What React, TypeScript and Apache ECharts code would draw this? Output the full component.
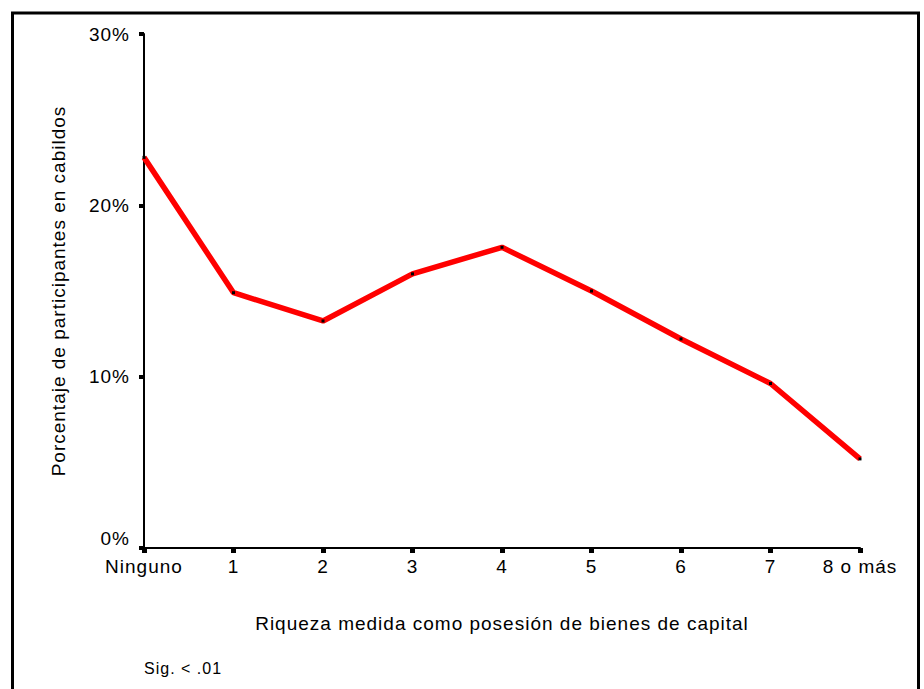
import React, { useEffect, useRef } from "react";
import * as echarts from "echarts";

const categories = ["Ninguno", "1", "2", "3", "4", "5", "6", "7", "8 o más"];
const participation = [22.8, 14.9, 13.25, 16.0, 17.55, 15.0, 12.2, 9.6, 5.2];
const yMin = 0;
const yMax = 30;
const yStep = 10;
const xTitle = "Riqueza medida como posesión de bienes de capital";
const yTitle = "Porcentaje de participantes en cabildos";
const note = "Sig. < .01";

const FONT = "'Liberation Sans', Arial, sans-serif";
const FS = 19;

export default function App() {
  const ref = useRef<HTMLDivElement>(null);
  useEffect(() => {
    if (!ref.current) return;
    const chart = echarts.init(ref.current, undefined, { renderer: "svg" });
    chart.setOption({
      animation: false,
      backgroundColor: "#fff",
      textStyle: { fontFamily: FONT, color: "#000" },
      grid: { left: 144, right: 64, top: 34, bottom: 141, containLabel: false },
      xAxis: {
        type: "category",
        data: categories,
        boundaryGap: false,
        name: xTitle,
        nameLocation: "middle",
        nameGap: 66,
        nameTextStyle: { fontFamily: FONT, fontSize: FS, color: "#000" },
        axisLine: { lineStyle: { color: "#000", width: 2 } },
        axisTick: { length: 5, lineStyle: { color: "#000", width: 5 } },
        axisLabel: { interval: 0, margin: 9, fontFamily: FONT, fontSize: FS, color: "#000" },
        splitLine: { show: false },
      },
      yAxis: {
        type: "value",
        min: yMin,
        max: yMax,
        interval: yStep,
        name: yTitle,
        nameLocation: "middle",
        nameGap: 76,
        nameTextStyle: { fontFamily: FONT, fontSize: FS, color: "#000" },
        axisLine: { show: true, lineStyle: { color: "#000", width: 2 } },
        axisTick: { show: true, length: 5, lineStyle: { color: "#000", width: 4 } },
        axisLabel: {
          margin: 14,
          fontFamily: FONT,
          fontSize: FS,
          color: "#000",
          formatter: (v: number) => (v === 0 ? "{zero|0%}" : v + "%"),
          rich: {
            zero: { fontFamily: FONT, fontSize: FS, color: "#000", padding: [0, 0, 20, 0] },
          },
        },
        splitLine: { show: false },
      },
      series: [
        {
          type: "line",
          data: participation,
          symbol: "rect",
          symbolSize: 3,
          showSymbol: true,
          itemStyle: { color: "#000" },
          lineStyle: { color: "#ff0000", width: 5.5 },
          z: 3,
        },
      ],
      graphic: [
        {
          type: "rect",
          shape: { x: 12.5, y: 13, width: 906, height: 720 },
          style: { fill: "none", stroke: "#000", lineWidth: 3 },
          silent: true,
        },
        {
          type: "text",
          x: 144,
          y: 668,
          style: {
            text: note,
            fontFamily: FONT,
            fontSize: 16,
            fill: "#000",
            verticalAlign: "middle",
          },
        },
      ],
    });
    return () => chart.dispose();
  }, []);
  return (
    <div
      ref={ref}
      style={{
        position: "fixed",
        left: 0,
        top: 0,
        width: 924,
        height: 689,
        background: "#fff",
        letterSpacing: "1px",
      }}
    />
  );
}
